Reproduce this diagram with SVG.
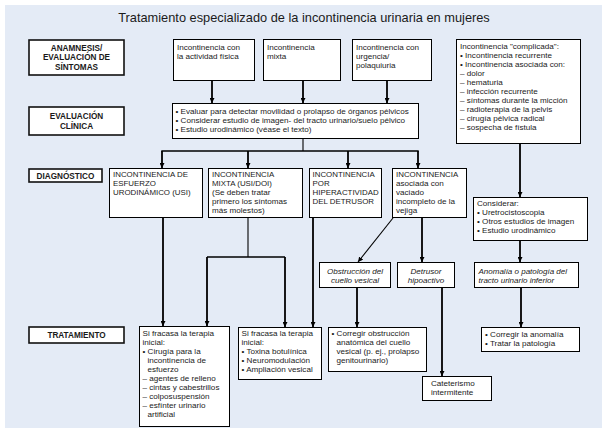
<svg xmlns="http://www.w3.org/2000/svg" width="607" height="432" viewBox="0 0 607 432">
<defs>
<marker id="ah" viewBox="0 0 6 6" refX="6" refY="3" markerWidth="5" markerHeight="5" orient="auto" markerUnits="userSpaceOnUse"><path d="M0,0 L6,3 L0,6 z" fill="#000"/></marker>
</defs>
<style>
text{font-family:"Liberation Sans",Arial,sans-serif;font-size:8.1px;fill:#1a1a1a}
.title{font-size:12.8px;text-anchor:middle}
.lbl{font-weight:bold;font-size:8.2px;text-anchor:middle}
.up{font-size:7.9px}
.sm{font-size:8px}
.it{font-style:italic}
.c{text-anchor:middle}
.box{fill:#fff;stroke:#000;stroke-width:1}
.lbox{fill:#fff;stroke:#111;stroke-width:1.6}
.ln{fill:none;stroke:#000;stroke-width:1.8}
.mid{fill:none;stroke:#000;stroke-width:1.4}
.thin{fill:none;stroke:#000;stroke-width:1.1}
.arr{marker-end:url(#ah)}
</style>
<rect x="5" y="5" width="597" height="423" fill="#e4ebf6"/>
<text class="title" x="304" y="22">Tratamiento especializado de la incontinencia urinaria en mujeres</text>

<g id="connectors">
<line class="ln arr" x1="212" y1="80" x2="212" y2="103"/>
<line class="ln arr" x1="303" y1="80" x2="303" y2="103"/>
<line class="ln arr" x1="387" y1="80" x2="387" y2="103"/>
<line class="thin" x1="303" y1="139" x2="303" y2="151"/>
<line class="mid" x1="161.3" y1="151" x2="418.7" y2="151"/>
<line class="ln arr" x1="162" y1="151" x2="162" y2="168"/>
<line class="ln arr" x1="248" y1="151" x2="248" y2="168"/>
<line class="ln arr" x1="348" y1="151" x2="348" y2="168"/>
<line class="ln arr" x1="418" y1="151" x2="418" y2="168"/>
<line class="ln arr" x1="520" y1="143" x2="520" y2="197"/>
<line class="ln arr" x1="520" y1="241" x2="520" y2="262"/>
<line class="ln arr" x1="521" y1="288" x2="521" y2="327"/>
<line class="ln arr" x1="163" y1="218" x2="163" y2="326"/>
<line class="thin" x1="248" y1="218" x2="248" y2="257"/>
<line class="mid" x1="207" y1="257" x2="285" y2="257"/>
<line class="ln arr" x1="207" y1="257" x2="207" y2="326"/>
<line class="ln arr" x1="285" y1="257" x2="285" y2="327"/>
<line class="ln arr" x1="313" y1="218" x2="313" y2="327"/>
<line class="thin arr" x1="393" y1="218" x2="358" y2="262"/>
<line class="ln arr" x1="422" y1="218" x2="422" y2="262"/>
<line class="ln arr" x1="357" y1="288" x2="357" y2="327"/>
<line class="ln arr" x1="442" y1="288" x2="442" y2="376"/>
</g>

<g id="lbl-anamnesis"><rect class="lbox" x="29" y="40" width="95" height="35"/>
<text class="lbl" x="76.5" y="50.5">ANAMNESIS/</text><text class="lbl" x="76.5" y="60">EVALUACIÓN DE</text><text class="lbl" x="76.5" y="69.5">SÍNTOMAS</text></g>
<g id="lbl-eval"><rect class="lbox" x="29" y="107" width="95" height="28"/>
<text class="lbl" x="76.5" y="119">EVALUACIÓN</text><text class="lbl" x="76.5" y="128.5">CLÍNICA</text></g>
<g id="lbl-diag"><rect class="lbox" x="29" y="169" width="73" height="13"/>
<text class="lbl" x="65.5" y="178.5">DIAGNÓSTICO</text></g>
<g id="lbl-trat"><rect class="lbox" x="29" y="327" width="95" height="16"/>
<text class="lbl" x="76.5" y="338">TRATAMIENTO</text></g>

<g id="n-fisica"><rect class="box" x="173.5" y="39.5" width="81" height="41"/>
<text x="177" y="49.5">Incontinencia con</text><text x="177" y="58.6">la actividad física</text></g>
<g id="n-mixta"><rect class="box" x="263.5" y="39.5" width="77" height="41"/>
<text x="267" y="49.5">Incontinencia</text><text x="267" y="58.6">mixta</text></g>
<g id="n-urgencia"><rect class="box" x="352.5" y="39.5" width="79" height="41"/>
<text x="356" y="49.5">Incontinencia con</text><text x="356" y="58.6">urgencia/</text><text x="356" y="67.7">polaquiuria</text></g>

<g id="n-complicada"><rect class="box" x="456.5" y="39.5" width="124" height="104"/>
<text x="460" y="48.5">Incontinencia "complicada":</text>
<text x="460" y="57.6">• Incontinencia recurrente</text>
<text x="460" y="66.7">• Incontinencia asociada con:</text>
<text x="460" y="75.8">– dolor</text>
<text x="460" y="84.9">– hematuria</text>
<text x="460" y="94">– infección recurrente</text>
<text x="460" y="103.1">– síntomas durante la micción</text>
<text x="460" y="112.2">– radioterapia de la pelvis</text>
<text x="460" y="121.3">– cirugía pélvica radical</text>
<text x="460" y="130.4">– sospecha de fístula</text></g>

<g id="n-evaluacion"><rect class="box" x="172.5" y="103.5" width="246" height="35"/>
<text x="175.5" y="113.5">• Evaluar para detectar movilidad o prolapso de órganos pélvicos</text>
<text x="175.5" y="122.6">• Considerar estudio de imagen- del tracto urinario/suelo pélvico</text>
<text x="175.5" y="131.7">• Estudio urodinámico (véase el texto)</text></g>

<g id="n-usi"><rect class="box" x="109.5" y="168.5" width="93" height="49"/>
<text class="up" x="113" y="177">INCONTINENCIA DE</text><text class="up" x="113" y="186.1">ESFUERZO</text><text class="up" x="113" y="195.2">URODINÁMICO (USI)</text></g>
<g id="n-mixta-dx"><rect class="box" x="208.5" y="168.5" width="94" height="49"/>
<text class="up" x="212" y="177">INCONTINENCIA</text><text class="up" x="212" y="186.1">MIXTA (USI/DOI)</text><text x="212" y="195.2">(Se deben tratar</text><text x="212" y="204.3">primero los síntomas</text><text x="212" y="213.4">más molestos)</text></g>
<g id="n-hiper"><rect class="box" x="309.5" y="168.5" width="72" height="49"/>
<text class="up" x="312.5" y="177">INCONTINENCIA</text><text class="up" x="312.5" y="186.1">POR</text><text class="up" x="312.5" y="195.2">HIPERACTIVIDAD</text><text class="up" x="312.5" y="204.3">DEL DETRUSOR</text></g>
<g id="n-vaciado"><rect class="box" x="392.5" y="168.5" width="74" height="49"/>
<text class="up" x="396" y="177">INCONTINENCIA</text><text x="396" y="186.1">asociada con</text><text x="396" y="195.2">vaciado</text><text x="396" y="204.3">incompleto de la</text><text x="396" y="213.4">vejiga</text></g>

<g id="n-considerar"><rect class="box" x="473.5" y="197.5" width="114" height="43"/>
<text x="477" y="206">Considerar:</text><text x="477" y="215.1">• Uretrocistoscopia</text><text x="477" y="224.2">• Otros estudios de imagen</text><text x="477" y="233.3">• Estudio urodinámico</text></g>

<g id="n-obstruccion"><rect class="box" x="319.5" y="262.5" width="71" height="25"/>
<text class="it c" x="355" y="274">Obstrucción del</text><text class="it c" x="355" y="283.1">cuello vesical</text></g>
<g id="n-detrusor"><rect class="box" x="397.5" y="262.5" width="57" height="25"/>
<text class="it c" x="426" y="274">Detrusor</text><text class="it c" x="426" y="283.1">hipoactivo</text></g>
<g id="n-anomalia"><rect class="box" x="474.5" y="262.5" width="104" height="25"/>
<text class="it sm" x="478.5" y="274">Anomalía o patología del</text><text class="it sm" x="478.5" y="283.1">tracto urinario inferior</text></g>

<g id="n-trat1"><rect class="box" x="139.5" y="326.5" width="90" height="100"/>
<text x="142.5" y="335.5">Si fracasa la terapia</text>
<text x="142.5" y="344.6">inicial:</text>
<text x="142.5" y="353.7">• Cirugía para la</text>
<text x="147.5" y="362.8">incontinencia de</text>
<text x="147.5" y="371.9">esfuerzo</text>
<text x="142.5" y="381">– agentes de relleno</text>
<text x="142.5" y="390.1">– cintas y cabestrillos</text>
<text x="142.5" y="399.2">– colposuspensión</text>
<text x="142.5" y="408.3">– esfínter urinario</text>
<text x="147.5" y="417.4">artificial</text></g>
<g id="n-trat2"><rect class="box" x="238.5" y="327.5" width="83" height="52"/>
<text x="241.5" y="336">Si fracasa la terapia</text>
<text x="241.5" y="345.1">inicial:</text>
<text x="241.5" y="354.2">• Toxina botulínica</text>
<text x="241.5" y="363.3">• Neuromodulación</text>
<text x="241.5" y="372.4">• Ampliación vesical</text></g>
<g id="n-corregir-obs"><rect class="box" x="328.5" y="327.5" width="98" height="44"/>
<text x="331.5" y="336">• Corregir obstrucción</text>
<text x="336.5" y="345.1">anatómica del cuello</text>
<text x="336.5" y="354.2">vesical (p. ej., prolapso</text>
<text x="336.5" y="363.3">genitourinario)</text></g>
<g id="n-cateterismo"><rect class="box" x="422.5" y="376.5" width="69" height="24"/>
<text x="431" y="386">Cateterismo</text><text x="431" y="395.1">intermitente</text></g>
<g id="n-corregir-anom"><rect class="box" x="481.5" y="327.5" width="98" height="24"/>
<text x="485" y="337">• Corregir la anomalía</text><text x="485" y="346.1">• Tratar la patología</text></g>
</svg>
